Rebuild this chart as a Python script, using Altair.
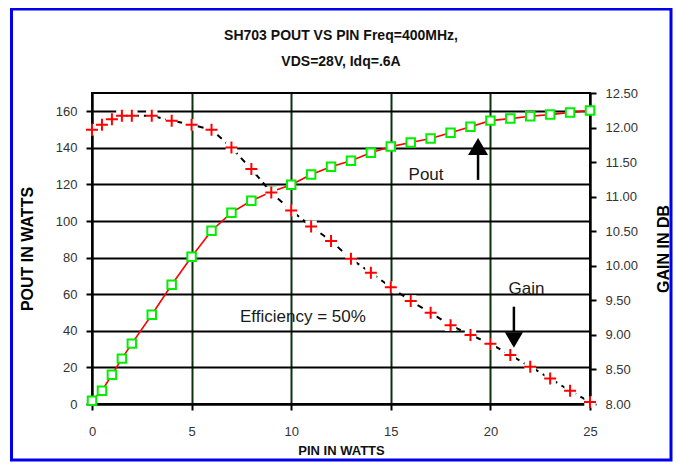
import altair as alt
import pandas as pd

# ---- data ----
pin = [0, 0.5, 1, 1.5, 2, 3, 4, 5, 6, 7, 8, 9, 10, 11, 12, 13, 14, 15,
       16, 17, 18, 19, 20, 21, 22, 23, 24, 25]
pout_w = [1.8, 7.3, 16.0, 24.8, 33.0, 48.8, 65.2, 80.5, 94.7, 104.6, 111.1,
          116.0, 119.9, 125.4, 129.7, 133.0, 137.4, 140.7, 142.9, 145.1,
          148.3, 151.6, 154.9, 156.0, 157.3, 158.2, 159.3, 160.4]
gain_db = [11.97, 12.04, 12.12, 12.17, 12.17, 12.17, 12.10, 12.04, 11.97,
           11.71, 11.40, 11.06, 10.80, 10.57, 10.36, 10.10, 9.90, 9.69, 9.49,
           9.32, 9.14, 9.00, 8.87, 8.71, 8.54, 8.37, 8.19, 8.03]

note_text = ["Pout", "Gain", "Efficiency = 50%"]
note_pin = [16.77, 21.81, 10.59]
note_pout = [125.2, 63.1, 47.6]

arrow_pin = [19.38, 21.18]
arrow_from = [122.5, 53.2]
arrow_to = [136.1, 39.4]
head_up_pin = [19.38]
head_up_pout = [140.8]
head_dn_pin = [21.18]
head_dn_pout = [35.0]

x_ticks = [0, 5, 10, 15, 20, 25]
pout_ticks = [0, 20, 40, 60, 80, 100, 120, 140, 160]
gain_ticks = [8.0, 8.5, 9.0, 9.5, 10.0, 10.5, 11.0, 11.5, 12.0, 12.5]

title_lines = ["SH703 POUT VS PIN Freq=400MHz,", "VDS=28V, Idq=.6A"]

# ---- tables ----
df_pout = pd.DataFrame({"pin": pin, "pout": pout_w})
df_gain = pd.DataFrame({"pin": pin, "gain": gain_db})
df_note = pd.DataFrame({"pin": note_pin, "pout": note_pout, "label": note_text})
df_arrow = pd.DataFrame({"pin": arrow_pin, "pout": arrow_from, "pout2": arrow_to})
df_up = pd.DataFrame({"pin": head_up_pin, "pout": head_up_pout})
df_dn = pd.DataFrame({"pin": head_dn_pin, "pout": head_dn_pout})
df_frame = pd.DataFrame({"k": [0]})

FONT = "Liberation Sans"

x_axis = alt.Axis(values=x_ticks, grid=True, gridColor="#0d330d", gridWidth=2,
                  domainColor="black", domainWidth=2, tickColor="black",
                  tickWidth=2, tickSize=6, labelFontSize=13, labelColor="#333333",
                  labelPadding=15, labelFlush=False, title="PIN IN WATTS",
                  titleFontSize=13, titleFontWeight="bold", titleColor="#111111",
                  titleY=46, titleBaseline="middle")
x_enc = alt.X("pin:Q", scale=alt.Scale(domain=[0, 25], nice=False), axis=x_axis)

y_axis = alt.Axis(values=pout_ticks, grid=True, gridColor="black", gridWidth=2,
                  domainColor="black", domainWidth=2, tickColor="black",
                  tickWidth=2, tickSize=6, labelFontSize=13, labelColor="#333333",
                  labelPadding=9, title="POUT IN WATTS", titleFontSize=16,
                  titleFontWeight="bold", titleColor="black", titleAngle=-90,
                  titleX=-65, titleY=155.5, titleAlign="center",
                  titleBaseline="middle")
y_scale = alt.Scale(domain=[0, 170], nice=False, zero=True)


def y_pout(field="pout"):
    return alt.Y(f"{field}:Q", scale=y_scale, axis=y_axis)


g_axis = alt.Axis(values=gain_ticks, orient="right", format=".2f", grid=False,
                  domainColor="black", domainWidth=2, tickColor="black",
                  tickWidth=2, tickSize=6, labelFontSize=13, labelColor="#333333",
                  labelPadding=9, title="GAIN IN DB", titleFontSize=16,
                  titleFontWeight="bold", titleColor="black", titleAngle=-90,
                  titleX=73, titleY=155.5, titleAlign="center",
                  titleBaseline="middle")
g_enc = alt.Y("gain:Q", scale=alt.Scale(domain=[8, 12.5], nice=False, zero=False),
              axis=g_axis)

# ---- Pout layer ----
pout_line = alt.Chart(df_pout).mark_line(color="#ff0000", strokeWidth=1.6).encode(
    x=x_enc, y=y_pout())
pout_pts = alt.Chart(df_pout).mark_point(shape="square", size=72, filled=True,
                                         fill="white", stroke="#00ee00",
                                         strokeWidth=2, opacity=1).encode(
    x=x_enc, y=y_pout())
notes = alt.Chart(df_note).mark_text(font=FONT, fontSize=17, color="#1a1a1a",
                                     align="center", baseline="middle").encode(
    x=x_enc, y=y_pout(), text="label:N")
shafts = alt.Chart(df_arrow).mark_rule(color="black", strokeWidth=2.5).encode(
    x=x_enc, y=y_pout(), y2="pout2:Q")
head_up = alt.Chart(df_up).mark_point(shape="M-1,0.85L1,0.85L0,-0.85Z", size=400,
                                      filled=True, color="black", opacity=1).encode(
    x=x_enc, y=y_pout())
head_dn = alt.Chart(df_dn).mark_point(shape="M-1,-0.85L1,-0.85L0,0.85Z", size=330,
                                      filled=True, color="black", opacity=1).encode(
    x=x_enc, y=y_pout())
pout_layer = alt.layer(pout_line, pout_pts, notes, shafts, head_up, head_dn)

# ---- Gain layer ----
gain_line = alt.Chart(df_gain).mark_line(color="black", strokeWidth=2,
                                         strokeDash=[6, 5]).encode(x=x_enc, y=g_enc)
gain_bg = alt.Chart(df_gain).mark_point(shape="square", size=130, filled=True,
                                        fill="white", strokeWidth=0,
                                        opacity=1).encode(x=x_enc, y=g_enc)
gain_pts = alt.Chart(df_gain).mark_point(shape="M-1,0L1,0M0,-1L0,1", size=144,
                                         filled=False, stroke="#ff0000",
                                         strokeWidth=2, opacity=1).encode(
    x=x_enc, y=g_enc)
gain_layer = alt.layer(gain_line, gain_bg, gain_pts)

# ---- decorative blue frame ----
frame = alt.Chart(df_frame).mark_rect(filled=False, fill=None, stroke="#0000ee",
                                      strokeWidth=3).encode(
    x=alt.value(-80.5), x2=alt.value(579), y=alt.value(-84), y2=alt.value(367))

chart = alt.layer(pout_layer, gain_layer, frame).resolve_scale(
    y="independent"
).properties(
    width=498,
    height=311,
    padding={"left": 84, "top": 85, "right": 83, "bottom": 58},
    autosize=alt.AutoSizeParams(type="none"),
    title=alt.TitleParams(text=title_lines, fontSize=14, fontWeight="bold",
                          font=FONT, color="#111111", lineHeight=26,
                          anchor="middle", frame="group", offset=-61),
).configure(
    font=FONT, background="white"
).configure_view(
    stroke="black", strokeWidth=2
).configure_axis(
    labelFont=FONT, titleFont=FONT
)

chart.save("out.html", embed_options={"renderer": "svg", "actions": False})
